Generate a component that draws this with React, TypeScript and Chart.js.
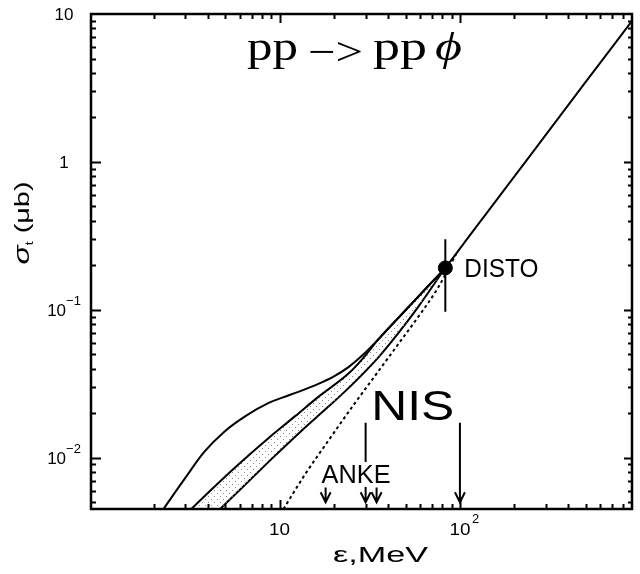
import { useEffect, useRef } from "react";
import { Chart, registerables } from "chart.js";

Chart.register(...registerables);

const SANS = '"Liberation Sans", Arial, Helvetica, sans-serif';
const SERIF = '"Liberation Serif", "Times New Roman", serif';

// Axis ranges: excess energy (MeV) and total cross section (μb)
const xRange = [0.9, 900];
const yRange = [0.0045, 10];

// Upper solid model curve
const fullEps = [2.27, 3.0, 3.82, 4.92, 6.5, 8.7, 10.26, 12.7, 16.4, 19.8, 24, 29, 35.1, 53.3, 66.1, 83, 110, 138, 244, 483, 910];
const fullSigma = [0.0045, 0.0073, 0.01094, 0.01495, 0.01918, 0.02348, 0.02539, 0.02787, 0.03157, 0.03522, 0.0408, 0.0496, 0.0627, 0.1081, 0.1431, 0.1924, 0.303, 0.437, 1.095, 3.3, 9.15];

// Upper edge of the shaded band
const bandHighEps = [3.24, 4.22, 5.95, 8.7, 12.25, 16.4, 24, 29, 35.1, 53.3, 66.1, 83];
const bandHighSigma = [0.0045, 0.00615, 0.00908, 0.01361, 0.01918, 0.02578, 0.0369, 0.047, 0.0627, 0.1081, 0.1431, 0.1924];

// Lower edge of the shaded band
const bandLowEps = [3.24, 4.68, 6.5, 9.04, 13.2, 18.6, 25.5, 35.1, 45.2, 58.2, 83];
const bandLowSigma = [0.0029, 0.0045, 0.00665, 0.00982, 0.01518, 0.02207, 0.03157, 0.04733, 0.0688, 0.1031, 0.1924];

// Dotted curve
const dottedEps = [10.5, 13.9, 18.6, 25.5, 35.1, 45.2, 58.2, 75, 96.6];
const dottedSigma = [0.0045, 0.00777, 0.01299, 0.02241, 0.03806, 0.05797, 0.0883, 0.1387, 0.246];

// DISTO measurement
const distoEps = [83];
const distoSigma = [0.192];
const distoErrLow = [0.097];
const distoErrHigh = [0.3];

// Planned measurements (arrows)
const nisEps = [30, 100];
const ankeEps = [18, 34.5];
const nisArrowTop = 0.0172;
const ankeArrowTop = 0.0063;
const arrowTip = 0.005;
const nisLabelSigma = 0.018;
const ankeLabelSigma = 0.00675;

// Tick labels
const yTickValues = [10, 1, 0.1, 0.01];
const yTickBase = ["10", "1", "10", "10"];
const yTickExp = ["", "", "\u22121", "\u22122"];
const xTickValues = [10, 100];
const xTickBase = ["10", "10"];
const xTickExp = ["", "2"];

const pts = (xs: number[], ys: number[]) => xs.map((x, i) => ({ x, y: ys[i] }));

function fitText(
  ctx: CanvasRenderingContext2D,
  text: string,
  x: number,
  baseline: number,
  size: number,
  family: string,
  width: number,
  align: CanvasTextAlign = "left",
  style = ""
) {
  ctx.font = `${style} ${size}px ${family}`;
  const w = ctx.measureText(text).width;
  const sx = width > 0 ? width / w : 1;
  ctx.save();
  ctx.translate(x, baseline);
  ctx.scale(sx, 1);
  ctx.textAlign = align;
  ctx.textBaseline = "alphabetic";
  ctx.fillText(text, 0, 0);
  ctx.restore();
}

function logTicks(min: number, max: number, from: number) {
  const out: { v: number; major: boolean }[] = [];
  for (let e = Math.floor(Math.log10(min)); e <= Math.ceil(Math.log10(max)); e++) {
    for (let k = 1; k <= 9; k++) {
      const v = k * Math.pow(10, e);
      if (v >= from && v > min * 1.001 && v < max / 1.001) out.push({ v, major: k === 1 });
    }
  }
  return out;
}

function arrow(ctx: CanvasRenderingContext2D, x: number, top: number, tip: number) {
  ctx.beginPath();
  ctx.moveTo(x, top);
  ctx.lineTo(x, tip);
  ctx.moveTo(x - 5, tip - 10);
  ctx.lineTo(x, tip);
  ctx.lineTo(x + 5, tip - 10);
  ctx.stroke();
}

const decorations = {
  id: "decorations",
  afterDraw(chart: any) {
    const { ctx, chartArea: a } = chart;
    const xs = chart.scales.x;
    const ys = chart.scales.y;
    ctx.save();
    ctx.strokeStyle = "#000";
    ctx.fillStyle = "#000";
    ctx.lineCap = "butt";

    // inward ticks on all four sides
    ctx.lineWidth = 2;
    ctx.beginPath();
    for (const t of logTicks(yRange[0], yRange[1], 0)) {
      const py = Math.round(ys.getPixelForValue(t.v)) + 0.5;
      ctx.moveTo(a.left, py);
      ctx.lineTo(a.left + (t.major ? 10 : 5), py);
      ctx.moveTo(a.right, py);
      ctx.lineTo(a.right - (t.major ? 8 : 4), py);
    }
    for (const t of logTicks(xRange[0], xRange[1], 2)) {
      const px = Math.round(xs.getPixelForValue(t.v)) + 0.5;
      ctx.moveTo(px, a.bottom);
      ctx.lineTo(px, a.bottom - (t.major ? 9 : 5));
      ctx.moveTo(px, a.top);
      ctx.lineTo(px, a.top + (t.major ? 9 : 5));
    }
    ctx.stroke();

    // frame
    ctx.lineWidth = 2.5;
    ctx.strokeRect(a.left, a.top, a.right - a.left, a.bottom - a.top);

    // y tick labels
    yTickValues.forEach((v, i) => {
      const py = ys.getPixelForValue(v);
      ctx.font = `17px ${SANS}`;
      const wb = ctx.measureText(yTickBase[i]).width;
      ctx.font = `13px ${SANS}`;
      const we = yTickExp[i] ? ctx.measureText(yTickExp[i]).width : 0;
      const left = 64 - (wb + we) / 2;
      fitText(ctx, yTickBase[i], left, py + 6, 17, SANS, 0);
      if (yTickExp[i]) fitText(ctx, yTickExp[i], left + wb, py - 5, 13, SANS, 0);
    });

    // x tick labels
    xTickValues.forEach((v, i) => {
      const px = xs.getPixelForValue(v);
      fitText(ctx, xTickBase[i], px, 535, 17, SANS, 21, "center");
      if (xTickExp[i]) fitText(ctx, xTickExp[i], px + 12, 523, 13, SANS, 0);
    });

    // axis titles
    fitText(ctx, "\u03b5,MeV", 333, 562, 22, SANS, 95);

    ctx.save();
    ctx.translate(22, 223);
    ctx.rotate(-Math.PI / 2);
    ctx.font = `italic 22px ${SANS}`;
    const wSig = ctx.measureText("\u03c3").width;
    ctx.font = `10px ${SANS}`;
    const wSub = ctx.measureText("t").width;
    ctx.font = `20px ${SANS}`;
    const wUnit = ctx.measureText(" (\u03bcb)").width;
    const total = wSig + wSub + wUnit;
    const k = 83 / total;
    ctx.scale(k, 1);
    const start = -total / 2;
    ctx.textBaseline = "alphabetic";
    ctx.textAlign = "left";
    ctx.font = `italic 22px ${SANS}`;
    ctx.fillText("\u03c3", start, 7);
    ctx.font = `10px ${SANS}`;
    ctx.fillText("t", start + wSig, 11);
    ctx.font = `20px ${SANS}`;
    ctx.fillText(" (\u03bcb)", start + wSig + wSub, 7);
    ctx.restore();

    // reaction title
    fitText(ctx, "pp", 247, 60, 40, SERIF, 51);
    fitText(ctx, "\u2212>", 308, 65, 40, SERIF, 55);
    fitText(ctx, "pp", 373, 60, 40, SERIF, 54);
    fitText(ctx, "\u03d5", 435, 60, 40, SERIF, 27, "left", "italic");

    // DISTO label
    const dx = xs.getPixelForValue(distoEps[0]);
    const dy = ys.getPixelForValue(distoSigma[0]);
    fitText(ctx, "DISTO", dx + 19, dy + 9, 25, SANS, 74);

    // NIS arrows and label
    ctx.lineWidth = 2;
    const nisPx = nisEps.map((e) => xs.getPixelForValue(e));
    for (const px of nisPx) arrow(ctx, px, ys.getPixelForValue(nisArrowTop), ys.getPixelForValue(arrowTip));
    fitText(ctx, "NIS", (nisPx[0] + nisPx[1]) / 2, ys.getPixelForValue(nisLabelSigma), 42, SANS, 83, "center");

    // ANKE arrows and label (label box masks the arrow passing behind it)
    const ankePx = ankeEps.map((e) => xs.getPixelForValue(e));
    const ankeBase = ys.getPixelForValue(ankeLabelSigma);
    const ankeMid = (ankePx[0] + ankePx[1]) / 2 + 5;
    ctx.fillStyle = "#fff";
    ctx.fillRect(ankeMid - 36, ankeBase - 21, 72, 25);
    ctx.fillStyle = "#000";
    fitText(ctx, "ANKE", ankeMid, ankeBase, 25, SANS, 69, "center");
    for (const px of ankePx) arrow(ctx, px, ys.getPixelForValue(ankeArrowTop), ys.getPixelForValue(arrowTip));

    ctx.restore();
  },
};

function stipple(): CanvasPattern | string {
  const c = document.createElement("canvas");
  c.width = 6;
  c.height = 6;
  const g = c.getContext("2d");
  if (!g) return "rgba(0,0,0,0.15)";
  g.fillStyle = "#8a8a8a";
  g.fillRect(1, 1, 1, 1);
  g.fillRect(4, 4, 1, 1);
  return g.createPattern(c, "repeat") || "rgba(0,0,0,0.15)";
}

export default function App() {
  const ref = useRef<HTMLCanvasElement>(null);

  useEffect(() => {
    document.body.style.margin = "0";
    if (!ref.current) return;
    const line = (data: { x: number; y: number }[], extra: any = {}) => ({
      data,
      borderColor: "#000",
      borderWidth: 2,
      pointRadius: 0,
      cubicInterpolationMode: "monotone",
      fill: false,
      ...extra,
    });
    const chart = new Chart(ref.current, {
      type: "line",
      data: {
        datasets: [
          line(pts(fullEps, fullSigma)),
          line(pts(bandHighEps, bandHighSigma), { fill: "+1", backgroundColor: stipple() }),
          line(pts(bandLowEps, bandLowSigma)),
          line(pts(dottedEps, dottedSigma), { borderDash: [3, 3] }),
          line([
            { x: distoEps[0], y: distoErrLow[0] },
            { x: distoEps[0], y: distoErrHigh[0] },
          ]),
          {
            data: pts(distoEps, distoSigma),
            showLine: false,
            pointRadius: 7,
            pointBackgroundColor: "#000",
            pointBorderColor: "#000",
            borderColor: "#000",
          },
        ] as any,
      },
      options: {
        animation: false,
        responsive: false,
        devicePixelRatio: 1,
        layout: { padding: { left: 91, top: 14, right: 3, bottom: 65 } },
        plugins: { legend: { display: false }, tooltip: { enabled: false } },
        events: [],
        scales: {
          x: { type: "logarithmic", min: xRange[0], max: xRange[1], display: false },
          y: { type: "logarithmic", min: yRange[0], max: yRange[1], display: false },
        },
      },
      plugins: [decorations],
    });
    return () => chart.destroy();
  }, []);

  return (
    <div style={{ position: "absolute", left: 0, top: 0, width: 640, height: 574, background: "#fff" }}>
      <canvas ref={ref} width={640} height={574} style={{ display: "block" }} />
    </div>
  );
}
